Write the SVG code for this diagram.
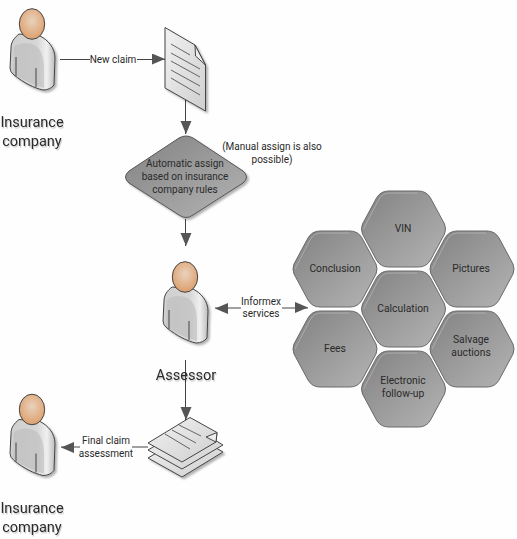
<svg xmlns="http://www.w3.org/2000/svg" width="517" height="539" viewBox="0 0 517 539">
<style>
text{font-family:Roboto,"Open Sans","Liberation Sans",sans-serif;fill:#2a2a2a;text-anchor:middle}
.s{font-size:10px}
.h{font-size:10.300px}
.b{font-size:14.500px;filter:url(#ts)}
.c{fill:none;stroke:#444;stroke-width:1}
.a{marker-end:url(#ah)}
.hex{fill:url(#hg);stroke:#6a6a6a;stroke-width:1}
.hi{fill:none;stroke:#c4c4c4;stroke-width:1;opacity:.55}
.sheet{fill:url(#pg);stroke:#444;stroke-width:1;stroke-linejoin:round}
.ln{fill:none;stroke:#555;stroke-width:.9}
</style>
<defs>
<marker id="ah" markerUnits="userSpaceOnUse" markerWidth="14" markerHeight="12" refX="13" refY="6" orient="auto"><path d="M0,0L13,5.500L0,11Z" fill="#555"/></marker>
<linearGradient id="hg" x1="0" y1="0" x2="1" y2="1"><stop offset="0" stop-color="#828282"/><stop offset="1" stop-color="#b4b4b4"/></linearGradient>
<linearGradient id="pg" x1="0" y1="0" x2="1" y2="1"><stop offset="0" stop-color="#f2f2f2"/><stop offset="1" stop-color="#cfcfcf"/></linearGradient>
<linearGradient id="bg" x1="0" y1="0" x2="1" y2="0"><stop offset="0" stop-color="#cfcfcf"/><stop offset=".6" stop-color="#d6d6d6"/><stop offset=".82" stop-color="#f0f0f0"/><stop offset="1" stop-color="#bcbcbc"/></linearGradient>
<radialGradient id="fg" cx=".5" cy=".4" r=".6"><stop offset="0" stop-color="#e9d2bd"/><stop offset="1" stop-color="#dd9f6c"/></radialGradient>
<filter id="ts" x="-10%" y="-20%" width="125%" height="150%"><feDropShadow dx="1" dy="1.5" stdDeviation=".4" flood-color="#000" flood-opacity=".2"/></filter>
<filter id="sh" x="-15%" y="-15%" width="135%" height="135%"><feDropShadow dx="2" dy="2" stdDeviation="1.200" flood-color="#000" flood-opacity=".3"/></filter>
<path id="hx" d="M-41,-5L-27,-31Q-23,-38-15,-38L15,-38Q23,-38 27,-31L41,-5Q43,0 41,5L27,31Q23,38 15,38L-15,38Q-23,38-27,31L-41,5Q-43,0-41,-5Z"/>
<path id="hxi" d="M-40,0L-25,-29Q-21,-36-14,-36L14,-36"/>
<g id="person">
<path filter="url(#sh)" d="M19,34C14,38 11,42 11,48L10,68Q10,72 14,75C24,83 34,88 43,90Q50,90 54,85L55,58C55,48 48,40 40,36Z" fill="url(#bg)" stroke="#444" stroke-width="1"/>
<path d="M14,47C20,42 30,42 36,46C42,50 44,60 44,68L44,88C34,85 22,80 13,73Z" fill="#bdbdbd" opacity=".6"/>
<path d="M16,57L16,76M36,68L36,87" fill="none" stroke="#444" stroke-width="1"/>
<ellipse cx="32" cy="24" rx="12.700" ry="15.300" fill="url(#fg)" stroke="#444" stroke-width="1"/>
</g>
</defs>
<rect width="517" height="539" fill="#fefefe"/>

<g id="connectors">
<path class="c" d="M60,59.500H90"/>
<path class="c a" d="M137,59.500H165"/>
<path class="c a" d="M185.500,100V134"/>
<path class="c a" d="M185.500,219V246"/>
<path class="c a" d="M241,308H215"/>
<path class="c a" d="M282,308H308"/>
<path class="c a" d="M185.500,360V420"/>
<path class="c" d="M148,447H132"/>
<path class="c a" d="M80,447H61"/>
</g>

<g id="insurer-top"><use href="#person"/><text class="b" x="32" y="127">Insurance</text><text class="b" x="32" y="146">company</text></g>
<text class="s" x="113" y="63">New claim</text>

<g id="claim-doc">
<path filter="url(#sh)" class="sheet" d="M165,27.500L195,45L205.500,65V111L165,88Z"/>
<path d="M195,45L195.500,56L205.500,65Z" fill="#eee" stroke="#444" stroke-width="1" stroke-linejoin="round"/>
<path class="ln" d="M171,44L190,55M171,53L200,69M171,61L200,77M171,70L200,86M171,78L200,95"/>
</g>

<g id="auto-assign">
<path filter="url(#sh)" d="M179,138Q186,134 193,138L243,171Q250,177 243,183L193,215Q186,220 179,215L129,183Q122,177 129,171Z" fill="url(#hg)" stroke="#555" stroke-width="1"/>
<text class="s" x="185" y="167">Automatic assign</text>
<text class="s" x="185" y="180">based on insurance</text>
<text class="s" x="185" y="193">company rules</text>
</g>
<text class="s" x="272" y="150">(Manual assign is also</text>
<text class="s" x="272" y="162.500">possible)</text>

<g id="assessor"><use href="#person" x="153" y="253"/><text class="b" x="186" y="380">Assessor</text></g>
<text class="s" x="261" y="304.500">Informex</text>
<text class="s" x="261" y="317">services</text>

<g id="hex-vin"><use href="#hx" class="hex" x="403.500" y="229"/><use href="#hxi" class="hi" x="403.500" y="229"/><text class="h" x="403" y="232">VIN</text></g>
<g id="hex-conclusion"><use href="#hx" class="hex" x="335" y="269"/><use href="#hxi" class="hi" x="335" y="269"/><text class="h" x="335" y="272">Conclusion</text></g>
<g id="hex-pictures"><use href="#hx" class="hex" x="472" y="269"/><use href="#hxi" class="hi" x="472" y="269"/><text class="h" x="471" y="272">Pictures</text></g>
<g id="hex-calculation"><use href="#hx" class="hex" x="403.500" y="309"/><use href="#hxi" class="hi" x="403.500" y="309"/><text class="h" x="403" y="312">Calculation</text></g>
<g id="hex-fees"><use href="#hx" class="hex" x="335" y="349"/><use href="#hxi" class="hi" x="335" y="349"/><text class="h" x="335" y="352">Fees</text></g>
<g id="hex-salvage"><use href="#hx" class="hex" x="472" y="349"/><use href="#hxi" class="hi" x="472" y="349"/><text class="h" x="471" y="343">Salvage</text><text class="h" x="471" y="356">auctions</text></g>
<g id="hex-followup"><use href="#hx" class="hex" x="403.500" y="389"/><use href="#hxi" class="hi" x="403.500" y="389"/><text class="h" x="403" y="384">Electronic</text><text class="h" x="403" y="397">follow-up</text></g>

<g id="final-docs">
<path filter="url(#sh)" class="sheet" d="M148,458L190,433L223,452L182,477Z"/>
<path class="sheet" d="M148,450L190,425L223,445L182,469Z"/>
<path class="sheet" d="M148,443L190,417.500L217,432.500L216,442L182,462Z"/>
<path d="M217,432.500L216,442L206,437Z" fill="#eee" stroke="#444" stroke-width="1" stroke-linejoin="round"/>
<path class="ln" d="M179,425L201,436M172,430L196,443M165,434L190,449"/>
</g>
<text class="s" x="106" y="444">Final claim</text>
<text class="s" x="106" y="457">assessment</text>

<g id="insurer-bottom"><use href="#person" x="0" y="385.500"/><text class="b" x="32" y="512.500">Insurance</text><text class="b" x="32" y="531.500">company</text></g>
</svg>
